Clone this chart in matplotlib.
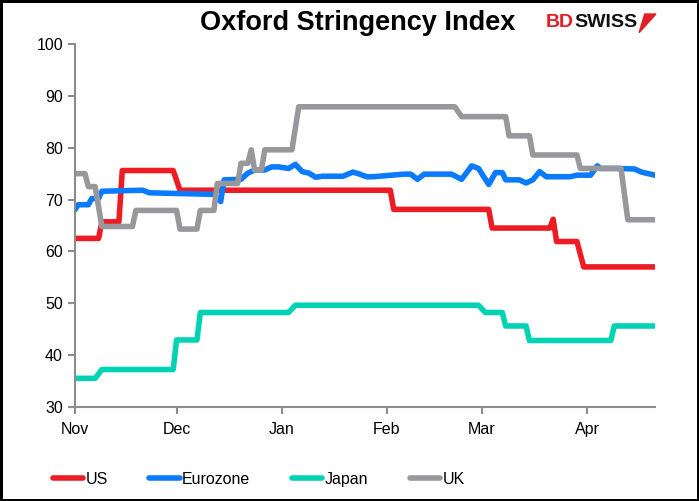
import pandas as pd
import matplotlib.pyplot as plt
import matplotlib.dates as mdates
from matplotlib.patches import Polygon

plt.rcParams['font.family'] = ['Liberation Sans', 'DejaVu Sans']

# Oxford Stringency Index (Nov 2020 - Apr 2021)
us_dates = ['2020-11-01', '2020-11-08', '2020-11-09', '2020-11-14', '2020-11-15',
            '2020-11-30', '2020-12-02', '2021-02-02', '2021-02-03', '2021-03-03',
            '2021-03-04', '2021-03-21', '2021-03-22', '2021-03-23', '2021-03-29',
            '2021-03-31', '2021-04-21']
us_vals = [62.5, 62.5, 65.7, 65.7, 75.6, 75.6, 71.8, 71.8, 68.1, 68.1,
           64.5, 64.5, 66.2, 61.9, 61.9, 57.0, 57.0]

ez_dates = ['2020-11-01', '2020-11-02', '2020-11-05', '2020-11-06', '2020-11-08',
            '2020-11-09', '2020-11-21', '2020-11-23', '2020-12-12', '2020-12-14',
            '2020-12-15', '2020-12-20', '2020-12-22', '2020-12-24', '2020-12-27',
            '2020-12-29', '2020-12-31', '2021-01-03', '2021-01-05', '2021-01-07',
            '2021-01-09', '2021-01-11', '2021-01-13', '2021-01-19', '2021-01-22',
            '2021-01-24', '2021-01-26', '2021-01-28', '2021-02-06', '2021-02-08',
            '2021-02-10', '2021-02-12', '2021-02-20', '2021-02-23', '2021-02-26',
            '2021-02-28', '2021-03-03', '2021-03-05', '2021-03-07', '2021-03-08',
            '2021-03-12', '2021-03-14', '2021-03-16', '2021-03-18', '2021-03-20',
            '2021-03-27', '2021-03-29', '2021-04-02', '2021-04-04', '2021-04-05',
            '2021-04-10', '2021-04-15', '2021-04-17', '2021-04-21']
ez_vals = [68.0, 69.0, 69.0, 70.2, 70.2, 71.6, 71.8, 71.3, 71.0, 69.6,
           73.8, 73.9, 75.1, 75.7, 75.7, 76.3, 76.3, 76.0, 76.8, 75.4,
           75.1, 74.3, 74.5, 74.5, 75.3, 74.9, 74.4, 74.4, 74.9, 74.9,
           73.9, 74.9, 74.9, 73.9, 76.5, 76.0, 72.9, 75.2, 75.2, 73.8,
           73.8, 73.2, 73.8, 75.4, 74.4, 74.4, 74.7, 74.7, 76.5, 76.0,
           76.0, 75.9, 75.3, 74.7]

jp_dates = ['2020-11-01', '2020-11-07', '2020-11-09', '2020-11-30', '2020-12-01',
            '2020-12-07', '2020-12-08', '2021-01-03', '2021-01-05', '2021-02-28',
            '2021-03-02', '2021-03-07', '2021-03-08', '2021-03-14', '2021-03-15',
            '2021-04-08', '2021-04-09', '2021-04-21']
jp_vals = [35.5, 35.5, 37.2, 37.2, 42.9, 42.9, 48.2, 48.2, 49.6, 49.6,
           48.2, 48.2, 45.6, 45.6, 42.8, 42.8, 45.6, 45.6]

uk_dates = ['2020-11-01', '2020-11-04', '2020-11-05', '2020-11-07', '2020-11-09',
            '2020-11-18', '2020-11-19', '2020-12-01', '2020-12-02', '2020-12-07',
            '2020-12-08', '2020-12-12', '2020-12-13', '2020-12-19', '2020-12-20',
            '2020-12-22', '2020-12-23', '2020-12-24', '2020-12-26', '2020-12-27',
            '2021-01-04', '2021-01-06', '2021-02-21', '2021-02-23', '2021-03-08',
            '2021-03-09', '2021-03-15', '2021-03-16', '2021-03-29', '2021-03-30',
            '2021-04-11', '2021-04-13', '2021-04-21']
uk_vals = [75.0, 75.0, 72.5, 72.5, 64.8, 64.8, 67.9, 67.9, 64.3, 64.3,
           67.9, 67.9, 73.1, 73.1, 77.0, 77.0, 79.6, 75.7, 75.7, 79.6,
           79.6, 87.9, 87.9, 86.0, 86.0, 82.3, 82.3, 78.6, 78.6, 76.0,
           76.0, 66.1, 66.1]

series = [
    ('US', us_dates, us_vals, '#ED1C24'),
    ('Eurozone', ez_dates, ez_vals, '#0A7BFF'),
    ('Japan', jp_dates, jp_vals, '#00D2B4'),
    ('UK', uk_dates, uk_vals, '#98989C'),
]

fig = plt.figure(figsize=(6.99, 5.01), dpi=100)
fig.patch.set_edgecolor('black')
fig.patch.set_linewidth(2.5)
ax = fig.add_axes([0.107, 0.188, 0.83, 0.724])

for name, dates, vals, color in series:
    ax.plot(pd.to_datetime(dates), vals, color=color, lw=4.0, label=name,
            solid_joinstyle='round', solid_capstyle='round')

ax.set_ylim(30, 100)
ax.set_yticks(range(30, 101, 10))
ax.set_xlim(pd.Timestamp('2020-11-01'), pd.Timestamp('2021-04-21'))
ax.xaxis.set_major_locator(mdates.MonthLocator())
ax.xaxis.set_major_formatter(mdates.DateFormatter('%b'))

for s in ['top', 'right']:
    ax.spines[s].set_visible(False)
for s in ['left', 'bottom']:
    ax.spines[s].set_color('#8C8C8C')
    ax.spines[s].set_linewidth(1.5)
ax.tick_params(colors='#8C8C8C', labelcolor='black', labelsize=11.5,
               length=5, width=1.5)
ax.tick_params(axis='x', pad=6)

# title and logo
fig.text(0.511, 0.955, 'Oxford Stringency Index', ha='center', va='center',
         fontsize=19.5, fontweight='bold')
bd = fig.text(0.781, 0.955, 'BD', ha='left', va='center', fontsize=14,
              fontweight='bold', color='#E31E26')
fig.canvas.draw()
bb = bd.get_window_extent().transformed(fig.transFigure.inverted())
sw = fig.text(bb.x1, 0.955, 'SWISS', ha='left', va='center', fontsize=14,
              fontweight='bold', color='#111111')
fig.canvas.draw()
bb2 = sw.get_window_extent().transformed(fig.transFigure.inverted())
x0 = bb2.x1 + 0.003
flag = Polygon([[x0, 0.935], [x0 + 0.008, 0.972], [x0 + 0.024, 0.972]],
               closed=True, transform=fig.transFigure, color='#E31E26')
fig.patches.append(flag)

fig.legend(loc='lower left', bbox_to_anchor=(0.055, 0.0), ncol=4,
           frameon=False, fontsize=11.5, handlelength=1.9, handletextpad=0.15,
           columnspacing=2.6)

fig.savefig('out.png', dpi=100)
